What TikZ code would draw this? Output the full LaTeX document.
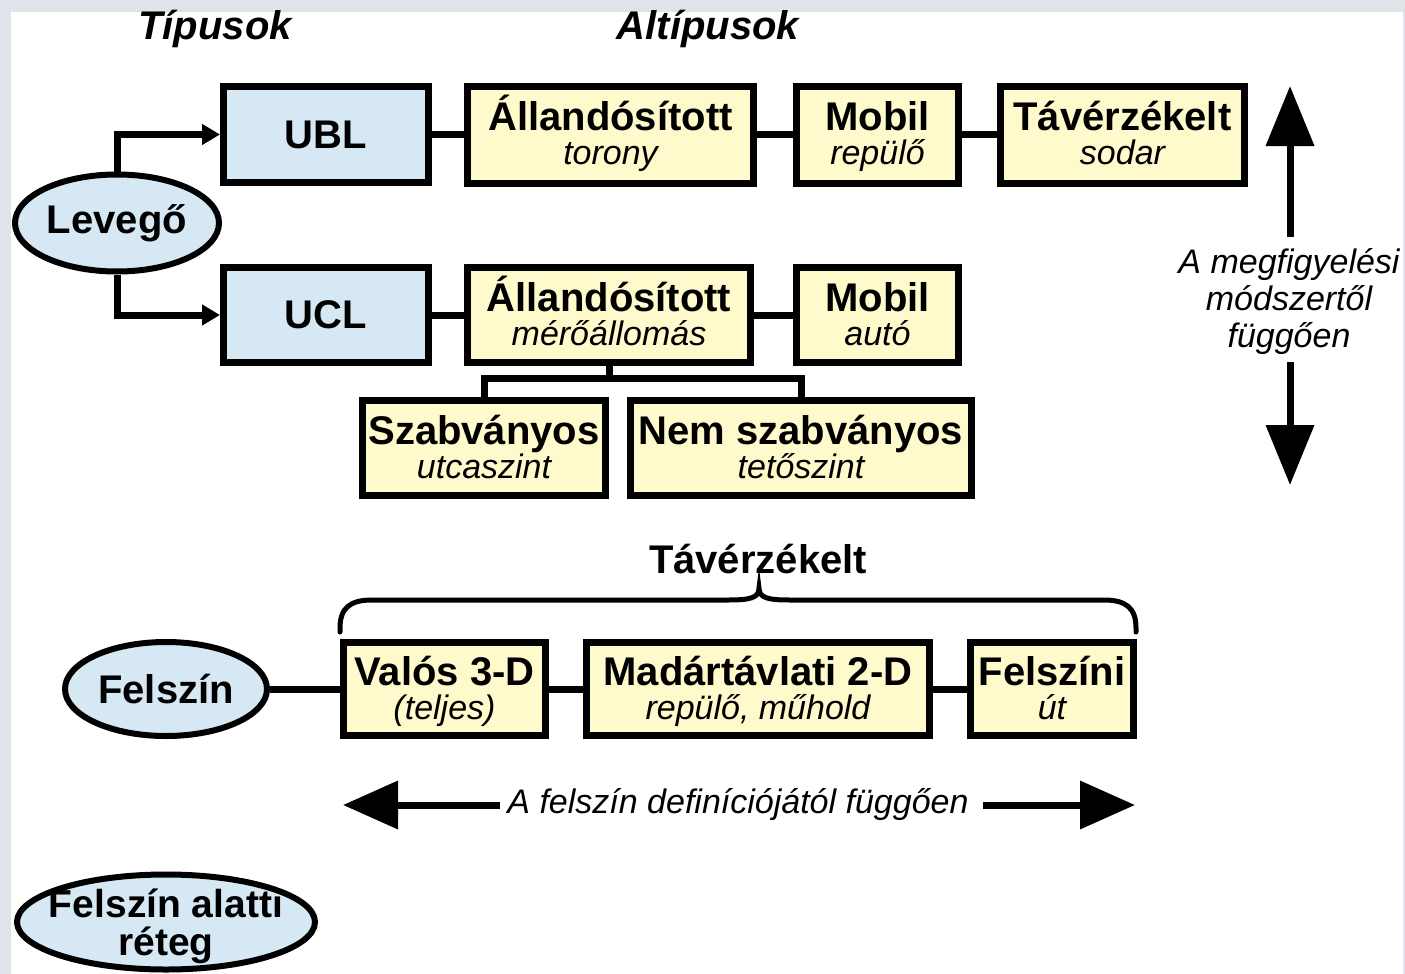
\documentclass[tikz,border=0pt]{standalone}
\usepackage{fontspec}
\setmainfont{Liberation Sans}
\usetikzlibrary{shapes.geometric,arrows.meta}
\definecolor{boxblue}{HTML}{D5E8F3}
\definecolor{boxyellow}{HTML}{FEFACB}
\definecolor{framecol}{HTML}{DEE4EA}
\newcommand\hl[1]{{\fontsize{40}{34}\selectfont\bfseries #1}}
\newcommand\itl[1]{{\fontsize{34}{34}\selectfont\itshape #1}}
\tikzset{
  box/.style={draw, line width=7pt, inner sep=0pt, align=center,
    font=\fontsize{34}{34}\selectfont},
  two/.style={text height=68pt, text depth=8pt},
  bluebox/.style={box, fill=boxblue},
  ybox/.style={box, fill=boxyellow},
  conn/.style={line width=7pt},
  ell/.style={ellipse, draw, line width=6pt, fill=boxblue, inner sep=0pt},
  lbl/.style={align=center, inner sep=0pt, font=\fontsize{40}{36}\selectfont\bfseries},
  smallarrow/.style={-{Triangle[length=18pt,width=20pt]}},
  bigarrow/.style={line width=7pt, -{Triangle[length=60pt,width=47pt]}},
  note/.style={align=center, inner sep=0pt, font=\fontsize{34}{37}\selectfont\itshape},
}
\begin{document}
\begin{tikzpicture}[x=1pt,y=-1pt]
\useasboundingbox (0,0) rectangle (1405,974);
\fill[framecol] (0,0) rectangle (1405,974);
\fill[white] (11,12) rectangle (1403,974);

% titles
\node[lbl, font=\fontsize{40}{36}\selectfont\bfseries\itshape] (t1) at (215,29) {Típusok};
\node[lbl, font=\fontsize{40}{36}\selectfont\bfseries\itshape] (t2) at (708,29) {Altípusok};

% air
\node[ell, minimum width=204pt, minimum height=97pt, label={[lbl]center:Levegő}] (lev) at (117,223) {};
\node[bluebox, minimum width=205pt, minimum height=96pt, font=\fontsize{40}{36}\selectfont\bfseries] (ubl) at (326,134.5) {UBL};
\node[ybox, two, minimum width=286pt, minimum height=97pt] (allt) at (610.5,134.5) {\hl{Állandósított}\\\itl{torony}};
\node[ybox, two, minimum width=162pt, minimum height=97pt] (mobr) at (877.5,134.5) {\hl{Mobil}\\\itl{repülő}};
\node[ybox, two, minimum width=244pt, minimum height=97pt] (tav) at (1122.5,134.5) {\hl{Távérzékelt}\\\itl{sodar}};

\node[bluebox, minimum width=205pt, minimum height=95pt, font=\fontsize{40}{36}\selectfont\bfseries] (ucl) at (326,315) {UCL};
\node[ybox, two, minimum width=283pt, minimum height=95pt] (allm) at (609,315) {\hl{Állandósított}\\\itl{mérőállomás}};
\node[ybox, two, minimum width=162pt, minimum height=95pt] (moba) at (877.5,315) {\hl{Mobil}\\\itl{autó}};

\node[ybox, two, minimum width=243pt, minimum height=95pt] (szab) at (484,448) {\hl{Szabványos}\\\itl{utcaszint}};
\node[ybox, two, minimum width=341pt, minimum height=95pt] (nszab) at (801,448) {\hl{Nem szabványos}\\\itl{tetőszint}};

\draw[conn, smallarrow] (lev.north) |- (ubl.west);
\draw[conn, smallarrow] (lev.south) |- (ucl.west);
\draw[conn] (ubl) -- (allt);
\draw[conn] (allt) -- (mobr);
\draw[conn] (mobr) -- (tav);
\draw[conn] (ucl) -- (allm);
\draw[conn] (allm) -- (moba);
\coordinate (brc) at (609,378);
\draw[conn] (allm.south) -- (brc);
\draw[conn] (szab.north) |- (brc) -| (nszab.north);

% vertical arrow
\node[note] (vnote) at (1289,302) {A megfigyelési\\módszertől\\függően};
\coordinate (vtop0) at (1290,237);
\coordinate (vtop) at (1290,86);
\coordinate (vbot0) at (1290,362);
\coordinate (vbot) at (1290,485);
\draw[bigarrow] (vtop0) -- (vtop);
\draw[bigarrow] (vbot0) -- (vbot);

% surface
\node[lbl] (tavlbl) at (758,559) {Távérzékelt};
\draw[line width=5pt, line cap=round]
  (340,632) -- (340,628) .. controls (340,608) and (350,600) .. (372,600)
  -- (728,600) .. controls (750,600) and (759,598) .. (759,588)
  .. controls (759,598) and (768,600) .. (790,600)
  -- (1104,600) .. controls (1126,600) and (1136,608) .. (1136,628) -- (1136,632);

\node[ell, minimum width=202pt, minimum height=94pt, label={[lbl]center:Felszín}] (fel) at (166,689) {};
\node[ybox, two, minimum width=202pt, minimum height=93pt] (valos) at (444.5,689) {\hl{Valós 3-D}\\\itl{(teljes)}};
\node[ybox, two, minimum width=343pt, minimum height=93pt] (madar) at (758,689) {\hl{Madártávlati 2-D}\\\itl{repülő, műhold}};
\node[ybox, two, minimum width=163pt, minimum height=93pt] (felsz) at (1052,689) {\hl{Felszíni}\\\itl{út}};
\draw[conn] (fel) -- (valos);
\draw[conn] (valos) -- (madar);
\draw[conn] (madar) -- (felsz);

% horizontal arrow
\node[note] (hnote) at (738,805) {A felszín definíciójától függően};
\coordinate (hl0) at (500,805);
\coordinate (hl1) at (343,805);
\coordinate (hr0) at (983,805);
\coordinate (hr1) at (1135,805);
\draw[bigarrow, -{Triangle[length=55pt,width=47pt]}] (hl0) -- (hl1);
\draw[bigarrow, -{Triangle[length=55pt,width=47pt]}] (hr0) -- (hr1);

% subsurface
\node[ell, minimum width=298pt, minimum height=95pt, label={[lbl,yshift=-4pt,font=\fontsize{39}{38}\selectfont\bfseries]center:Felszín alatti\\réteg}] (sub) at (166,922) {};
\end{tikzpicture}
\end{document}
